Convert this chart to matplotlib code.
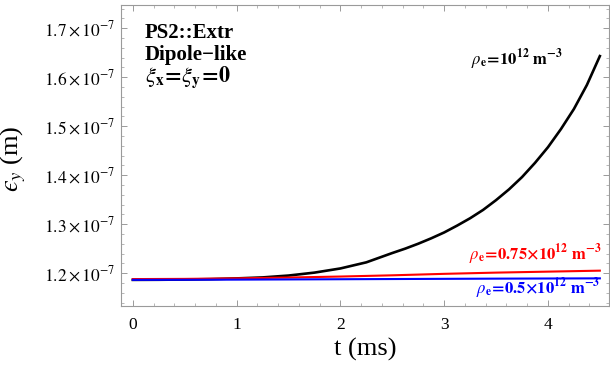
import numpy as np
import matplotlib
matplotlib.use("Agg")
import matplotlib.pyplot as plt
from matplotlib.ticker import MultipleLocator, FuncFormatter

# emittance values in units of 1e-7 m
t_ms = [0, 0.25, 0.5, 0.75, 1.0, 1.25, 1.5, 1.75, 2.0, 2.25,
        2.5, 2.625, 2.75, 2.875, 3.0, 3.125, 3.25, 3.375, 3.5, 3.625,
        3.75, 3.875, 4.0, 4.125, 4.25, 4.375, 4.5]
eps_rho_1 = [1.1862, 1.1864, 1.1869, 1.1877, 1.1892, 1.1912, 1.1950, 1.2010, 1.2095, 1.2220,
             1.2410, 1.2500, 1.2600, 1.2710, 1.2830, 1.2970, 1.3120, 1.3290, 1.3490, 1.3710,
             1.3960, 1.4250, 1.4570, 1.4940, 1.5350, 1.5840, 1.6430]

t_low = [0, 0.5, 1.0, 1.5, 2.0, 2.5, 3.0, 3.5, 4.0, 4.5]
eps_rho_075 = [1.1878, 1.1882, 1.1893, 1.1910, 1.1930, 1.1955, 1.1985, 1.2010, 1.2030, 1.2050]
eps_rho_05 = [1.1862, 1.1864, 1.1867, 1.1871, 1.1875, 1.1879, 1.1883, 1.1887, 1.1890, 1.1893]

plt.rcParams["font.family"] = ["Liberation Serif", "DejaVu Serif"]
plt.rcParams["mathtext.fontset"] = "stix"

fig = plt.figure(figsize=(6.1, 3.67), dpi=100)
ax = fig.add_axes([0.198, 0.166, 0.800, 0.820])

ax.plot(t_ms, eps_rho_1, color="black", lw=1.9)
ax.plot(t_low, eps_rho_075, color="red", lw=1.5)
ax.plot(t_low, eps_rho_05, color="blue", lw=1.5)

ax.set_xlim(-0.116, 4.586)
ax.set_ylim(1.1327, 1.747)

ax.xaxis.set_major_locator(MultipleLocator(1))
ax.xaxis.set_minor_locator(MultipleLocator(0.2))
ax.yaxis.set_major_locator(MultipleLocator(0.1))
ax.yaxis.set_minor_locator(MultipleLocator(0.02))
ax.xaxis.set_major_formatter(FuncFormatter(lambda v, p: f"{v:.0f}"))
ax.yaxis.set_major_formatter(FuncFormatter(lambda v, p: rf"${v:.1f}\times10^{{-7}}$"))

frame = "#9a9a9a"
for s in ax.spines.values():
    s.set_color(frame)
    s.set_linewidth(0.8)
ax.tick_params(which="both", direction="in", top=True, right=True,
               colors=frame, labelcolor="black", labelsize=12.5)
ax.tick_params(which="major", length=4, width=0.7, pad=8)
ax.tick_params(which="minor", length=2.2, width=0.5)
ax.tick_params(axis="y", which="major", pad=4)

ax.set_xlabel("t (ms)", fontsize=19)
ax.xaxis.set_label_coords(0.50, -0.105)
ax.set_ylabel("$\u03f5_y$ (m)", fontsize=19)
ax.yaxis.set_label_coords(-0.19, 0.49)

ax.text(0.049, 0.890, "PS2::Extr", transform=ax.transAxes,
        fontsize=15, fontweight="bold", va="baseline")
ax.text(0.049, 0.817, "Dipole\u2212like", transform=ax.transAxes,
        fontsize=15, fontweight="bold", va="baseline")
ax.text(0.049, 0.744,
        r"$\xi_{\mathbf{x}}\!\mathbf{=}\!\xi_{\mathbf{y}}\!\mathbf{=}\!\mathbf{0}$",
        transform=ax.transAxes, fontsize=16, va="baseline")

ax.text(3.70, 1.625, r"$\rho_{\mathbf{e}}\!\mathbf{=}\!\mathbf{10^{12}\ m^{-3}}$",
        color="black", fontsize=12, ha="center", va="baseline")
ax.text(4.52, 1.2265, r"$\rho_{\mathbf{e}}\!\mathbf{=}\!\mathbf{0.75{\times}10^{12}\ m^{-3}}$",
        color="red", fontsize=12, ha="right", va="baseline")
ax.text(4.50, 1.157, r"$\rho_{\mathbf{e}}\!\mathbf{=}\!\mathbf{0.5{\times}10^{12}\ m^{-3}}$",
        color="blue", fontsize=12, ha="right", va="baseline")

fig.savefig("out.png", dpi=100)
